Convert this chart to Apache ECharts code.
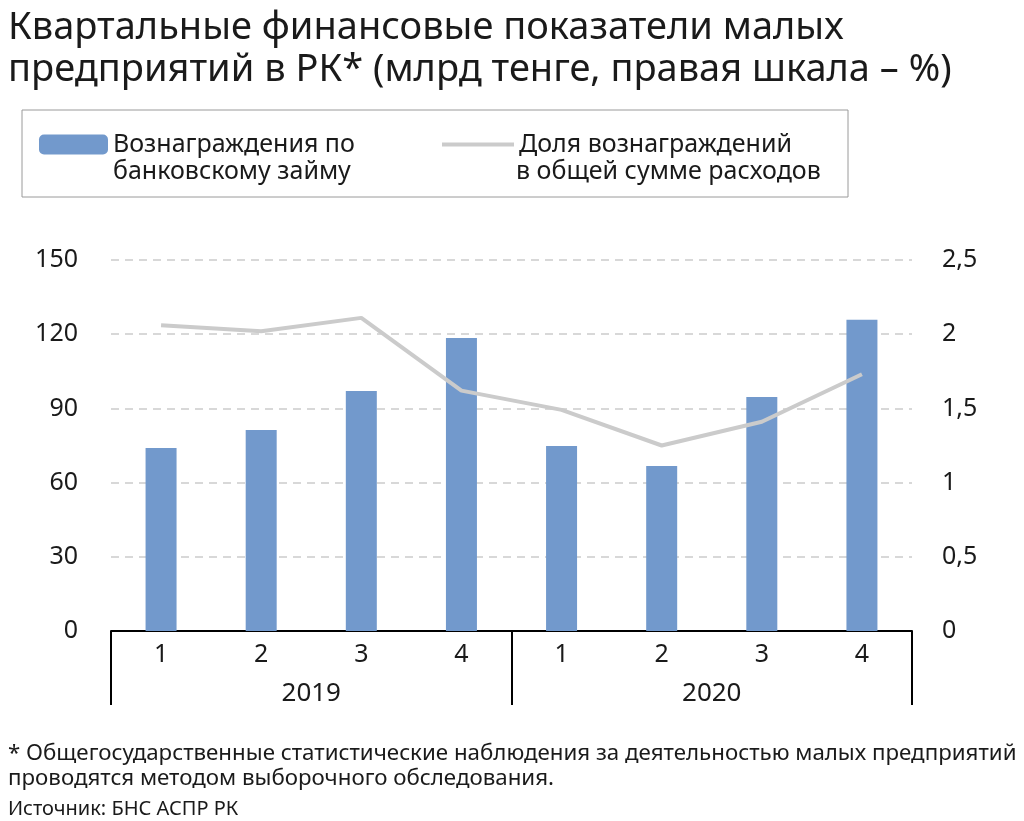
<!DOCTYPE html>
<html>
<head>
<meta charset="utf-8">
<script src="https://cdn.jsdelivr.net/npm/echarts@6/dist/echarts.min.js"></script>
<style>
  html, body { margin: 0; padding: 0; background: #fff; }
  #chart { width: 1024px; height: 821px; }
</style>
</head>
<body>
<div id="chart"></div>
<script>
// data
const quarters = ["1", "2", "3", "4", "1", "2", "3", "4"];
const years = ["2019", "2020"];
const interestPaid = [74.0, 81.3, 97.0, 118.5, 74.8, 66.7, 94.6, 125.8];
const interestShare = [2.06, 2.02, 2.11, 1.62, 1.49, 1.25, 1.41, 1.73];

const barName = "Вознаграждения по банковскому займу";
const lineName = "Доля вознаграждений в общей сумме расходов";

const FONT = "Noto Sans";
const INK = "#1a1a1a";

const chart = echarts.init(document.getElementById("chart"));

chart.setOption({
  backgroundColor: "#fff",
  animation: false,
  textStyle: { fontFamily: FONT, color: INK },
  title: [
    {
      text: "Квартальные финансовые показатели малых\nпредприятий в РК* (млрд тенге, правая шкала – %)",
      left: 3,
      top: 2,
      textStyle: { fontFamily: FONT, fontSize: 38, fontWeight: "normal", lineHeight: 42, color: INK },
    },
    {
      text: "* Общегосударственные статистические наблюдения за деятельностью малых предприятий\nпроводятся методом выборочного обследования.",
      left: 3,
      top: 736,
      textStyle: { fontFamily: FONT, fontSize: 22.3, fontWeight: "normal", lineHeight: 25, color: INK },
    },
    {
      text: "Источник: БНС АСПР РК",
      left: 3,
      top: 794,
      textStyle: { fontFamily: FONT, fontSize: 20, fontWeight: "normal", color: INK },
    },
  ],
  graphic: [
    {
      type: "rect",
      shape: { x: 22, y: 110, width: 826, height: 87 },
      style: { fill: "none", stroke: "#9a9a9a", lineWidth: 1 },
    },
    {
      type: "text",
      left: 113,
      top: 159,
      style: { text: "банковскому займу", fontFamily: FONT, fontSize: 25, fill: INK },
    },
    {
      type: "text",
      left: 516,
      top: 159,
      style: { text: "в общей сумме расходов", fontFamily: FONT, fontSize: 25, fill: INK },
    },
  ],
  legend: [
    {
      data: [barName],
      left: 34,
      top: 127,
      itemWidth: 69,
      itemHeight: 20,
      formatter: () => "Вознаграждения по",
      textStyle: { fontFamily: FONT, fontSize: 25, color: INK },
    },
    {
      data: [{ name: lineName, icon: "rect" }],
      left: 437,
      top: 127,
      itemWidth: 72,
      itemHeight: 4,
      formatter: () => "Доля вознаграждений",
      textStyle: { fontFamily: FONT, fontSize: 25, color: INK },
    },
  ],
  grid: { left: 111, right: 112, top: 260, bottom: 190 },
  xAxis: [
    {
      type: "category",
      data: quarters,
      axisLine: { lineStyle: { color: "#000", width: 2 } },
      axisTick: { show: false },
      axisLabel: { fontFamily: FONT, fontSize: 25, color: INK, margin: 11 },
    },
    {
      type: "category",
      data: years,
      position: "bottom",
      axisLine: { show: false },
      axisTick: { show: true, length: 74, lineStyle: { color: "#000", width: 2 } },
      axisLabel: { fontFamily: FONT, fontSize: 26, color: INK, margin: 50 },
    },
  ],
  yAxis: [
    {
      type: "value",
      min: 0,
      max: 150,
      interval: 30,
      axisLine: { show: false },
      axisTick: { show: false },
      axisLabel: { fontFamily: FONT, fontSize: 25, color: INK, margin: 33 },
      splitLine: { lineStyle: { color: "#cccccc", type: [8, 6], width: 1.5 } },
    },
    {
      type: "value",
      min: 0,
      max: 2.5,
      interval: 0.5,
      axisLine: { show: false },
      axisTick: { show: false },
      axisLabel: {
        fontFamily: FONT,
        fontSize: 25,
        color: INK,
        margin: 30,
        formatter: (v) => String(v).replace(".", ","),
      },
      splitLine: { show: false },
    },
  ],
  series: [
    {
      name: barName,
      type: "bar",
      xAxisIndex: 0,
      yAxisIndex: 0,
      data: interestPaid,
      barWidth: 31,
      itemStyle: { color: "#7299cc" },
    },
    {
      name: lineName,
      type: "line",
      xAxisIndex: 0,
      yAxisIndex: 1,
      data: interestShare,
      symbol: "none",
      lineStyle: { color: "#cbcbcb", width: 4 },
      itemStyle: { color: "#cbcbcb" },
    },
  ],
});
</script>
</body>
</html>
